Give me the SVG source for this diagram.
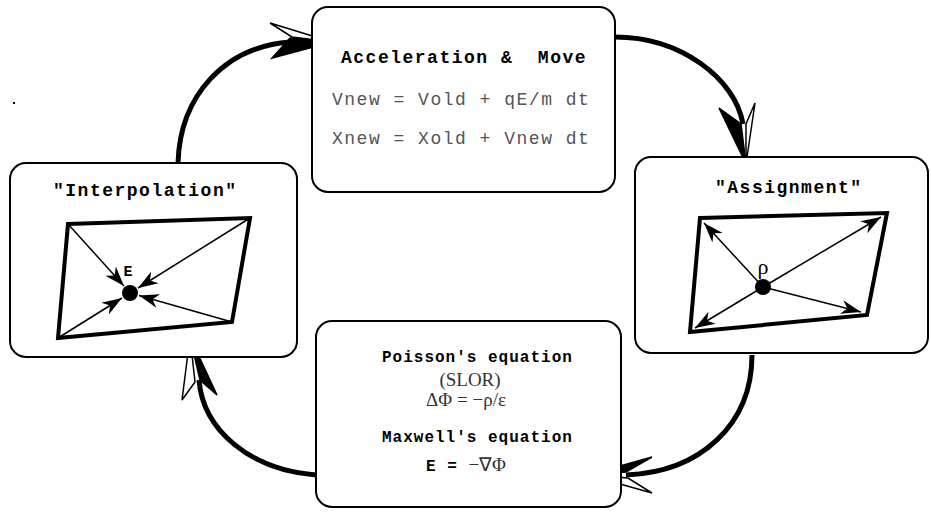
<svg xmlns="http://www.w3.org/2000/svg" width="931" height="514" viewBox="0 0 931 514">
<defs>
<style>
.box{fill:#fff;stroke:#000;stroke-width:2}
.cell{fill:none;stroke:#000;stroke-width:4;stroke-linejoin:miter}
.thin{stroke:#000;stroke-width:1.5;fill:none}
.flow{fill:none;stroke:#000;stroke-width:5;stroke-linecap:butt}
.hw{fill:#fff;stroke:#000;stroke-width:1.5;stroke-linejoin:miter}
.hb{fill:#000;stroke:#000;stroke-width:1.5;stroke-linejoin:miter}
.ttl{font-family:"Liberation Mono",monospace;font-weight:bold;font-size:18px;letter-spacing:1.5px;fill:#000}
.eq{font-family:"Liberation Mono",monospace;font-size:18px;letter-spacing:1.5px;fill:#555}
.bt{font-family:"Liberation Mono",monospace;font-weight:bold;font-size:16px;letter-spacing:1px;fill:#000}
.sf{font-family:"Liberation Serif",serif;font-size:19px;fill:#333}
.lbl{font-family:"Liberation Mono",monospace;font-weight:bold;font-size:15px;fill:#000}
</style>
<marker id="ah" viewBox="-21 -8 22 16" refX="0" refY="0" markerWidth="22" markerHeight="16" markerUnits="userSpaceOnUse" orient="auto"><path d="M0,0 L-20,-7 L-14,0 L-20,7 Z" fill="#000"/></marker>
</defs>
<rect width="931" height="514" fill="#fff"/>
<rect x="13" y="102" width="2" height="2" fill="#000"/>

<g id="connectors">
  <path class="flow" d="M178,163 C180,95 225,47 290,42"/>
  <polygon class="hw" points="332,42 270,23 292,37"/>
  <polygon class="hb" points="332,42 290,38 272,58"/>

  <path class="flow" d="M615,37 C680,37 735,78 743,124"/>
  <polygon class="hb" points="746,164 741,124 719,108"/>
  <polygon class="hw" points="746,164 746,124 755,103"/>

  <path class="flow" d="M752,355 C752,425 700,472 626,475"/>
  <polygon class="hb" points="588,475 626,472 652,457"/>
  <polygon class="hw" points="588,475 628,478 652,493"/>

  <path class="flow" d="M316,475 C250,470 203,430 199,380"/>
  <polygon class="hw" points="190,337 195,382 182,400"/>
  <polygon class="hb" points="190,337 200,380 217,395"/>
</g>

<g id="accel">
  <rect class="box" x="312" y="7" width="303" height="185" rx="16"/>
  <text class="ttl" x="341" y="63">Acceleration &amp; &#160;Move</text>
  <text class="eq" x="332" y="105">Vnew = Vold + qE/m dt</text>
  <text class="eq" x="332" y="144">Xnew = Xold + Vnew dt</text>
</g>

<g id="interp">
  <rect class="box" x="10" y="163" width="287" height="194" rx="16"/>
  <text class="ttl" x="53" y="196">"Interpolation"</text>
  <polygon class="cell" points="68,224 250,218 232,322 58,338"/>
  <line class="thin" x1="68" y1="224" x2="124" y2="286" marker-end="url(#ah)"/>
  <line class="thin" x1="250" y1="218" x2="138" y2="288" marker-end="url(#ah)"/>
  <line class="thin" x1="232" y1="322" x2="139" y2="295.5" marker-end="url(#ah)"/>
  <line class="thin" x1="58" y1="338" x2="122" y2="298" marker-end="url(#ah)"/>
  <circle cx="130" cy="293" r="8" fill="#000"/>
  <text class="lbl" x="128" y="276" text-anchor="middle">E</text>
</g>

<g id="assign">
  <rect class="box" x="635" y="157" width="293" height="196" rx="16"/>
  <text class="ttl" x="715" y="193">"Assignment"</text>
  <polygon class="cell" points="700,218 887,213 867,315 690,332"/>
  <line class="thin" x1="763" y1="287" x2="704" y2="223" marker-end="url(#ah)"/>
  <line class="thin" x1="763" y1="287" x2="881" y2="217" marker-end="url(#ah)"/>
  <line class="thin" x1="763" y1="287" x2="861" y2="312" marker-end="url(#ah)"/>
  <line class="thin" x1="763" y1="287" x2="695" y2="328" marker-end="url(#ah)"/>
  <circle cx="763" cy="287" r="8" fill="#000"/>
  <text class="sf" x="763" y="274" text-anchor="middle" style="fill:#000;font-size:22px">ρ</text>
</g>

<g id="poisson">
  <rect class="box" x="316" y="321" width="305" height="186" rx="16"/>
  <text class="bt" x="382" y="362">Poisson's equation</text>
  <text class="sf" x="470" y="386" text-anchor="middle">(SLOR)</text>
  <text class="sf" x="466" y="406" text-anchor="middle">ΔΦ = −ρ/ε</text>
  <text class="bt" x="382" y="442">Maxwell's equation</text>
  <text x="466" y="471" text-anchor="middle"><tspan class="bt">E = </tspan><tspan class="sf">−∇Φ</tspan></text>
</g>
</svg>
